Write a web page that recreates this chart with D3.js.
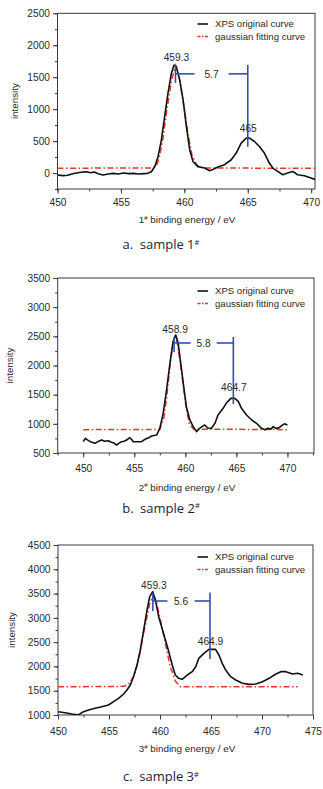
<!DOCTYPE html>
<html>
<head>
<meta charset="utf-8">
<script src="https://cdn.jsdelivr.net/npm/d3@7/dist/d3.min.js"></script>
<style>
  html, body { margin: 0; padding: 0; background: #ffffff; }
  svg { display: block; }
  .tick text { font-family: "Liberation Sans", Arial, sans-serif; }
</style>
</head>
<body>
<svg id="chart" width="323" height="789"></svg>
<script>
// ---------------- DATA ----------------
// Panel a (sample 1#)
const energy1 = [450.0,450.4,450.8,451.2,451.6,452.0,452.3,452.6,452.9,453.2,453.6,454.0,454.4,454.8,455.2,455.6,456.0,456.4,456.8,457.1,457.4,457.67,457.93,458.19,458.45,458.71,458.98,459.19,459.37,459.63,459.9,460.16,460.42,460.68,461.07,461.3,461.6,461.99,462.25,462.64,463.17,463.7,464.09,464.48,464.88,465.14,465.53,465.92,466.31,466.7,466.97,467.36,467.75,468.14,468.54,468.93,469.46,469.98,470.3];
const intensity1 = [-30,-40,-35,-10,5,15,20,5,15,-10,-30,-15,-5,-15,0,-10,-5,-15,-10,-5,20,103,260,520,885,1250,1560,1690,1665,1458,1145,730,365,180,100,90,78,36,55,94,130,208,312,468,547,547,494,416,312,156,78,25,-27,0,25,-27,-42,-78,-100];
const fitEnergy1 = [450,457.5,457.8,458.0,458.3,458.6,459.0,459.3,459.6,460.0,460.3,460.6,461.0,461.5,470.3];
const fitIntensity1 = [75,80,120,220,520,960,1460,1680,1500,1000,600,280,120,78,75];
const yTicks1 = [0,500,1000,1500,2000,2500];
const xTicks1 = [450,455,460,465,470];

// Panel b (sample 2#)
const energy2 = [450.0,450.2,450.45,450.7,451.15,451.5,451.8,452.1,452.45,452.7,452.94,453.27,453.5,453.76,454.0,454.25,454.57,454.75,454.9,455.3,455.71,456.04,456.4,456.69,457.18,457.5,457.83,458.16,458.49,458.8,459.06,459.3,459.55,459.8,460.1,460.44,460.77,461.1,461.4,461.7,461.9,462.2,462.56,462.9,463.2,463.7,464.0,464.45,464.85,465.2,465.5,465.99,466.5,466.97,467.46,467.8,468.1,468.4,468.6,468.9,469.2,469.4,469.7,470.0];
const intensity2 = [694,752,720,694,666,700,723,700,711,690,677,637,670,694,700,723,762,730,694,694,694,735,760,791,808,923,1180,1580,2037,2408,2523,2380,2037,1694,1294,1066,951,866,923,960,980,928,925,1009,1151,1266,1352,1437,1437,1380,1266,1151,1066,1009,923,900,923,910,952,920,935,966,1000,980];
const fitEnergy2 = [450,457.5,457.9,458.2,458.5,458.8,459.0,459.2,459.5,459.8,460.1,460.4,460.8,470];
const fitIntensity2 = [900,905,1100,1500,2000,2400,2500,2400,2050,1650,1250,1000,910,900];
const yTicks2 = [500,1000,1500,2000,2500,3000,3500];
const xTicks2 = [450,455,460,465,470];

// Panel c (sample 3#)
const energy3 = [450.03,450.7,451.35,452.0,452.5,453.0,453.64,454.3,454.95,455.45,455.94,456.43,456.76,457.09,457.4,457.75,458.07,458.4,458.73,458.99,459.29,459.55,459.87,460.2,460.53,460.86,461.2,461.5,461.84,462.17,462.67,463.16,463.5,463.8,464.3,464.8,465.45,465.78,466.1,466.44,466.93,467.42,468.08,468.73,469.39,470.05,470.7,471.36,471.85,472.34,473.0,473.5,474.0];
const intensity3 = [1068,1048,1020,1000,1068,1103,1137,1171,1206,1274,1343,1432,1515,1618,1789,2029,2338,2750,3162,3436,3539,3368,3024,2785,2544,2303,2029,1823,1755,1734,1823,1892,1995,2166,2270,2352,2352,2235,2063,1926,1789,1720,1652,1631,1638,1686,1755,1844,1892,1892,1844,1858,1823];
const fitEnergy3 = [450,456.5,457.0,457.5,458.0,458.5,459.0,459.3,459.6,460.0,460.5,461.0,461.5,462.0,473.5];
const fitIntensity3 = [1580,1590,1650,1820,2250,2800,3300,3450,3350,3000,2500,2000,1700,1580,1580];
const yTicks3 = [1000,1500,2000,2500,3000,3500,4000,4500];
const xTicks3 = [450,455,460,465,470,475];

// Peak annotations: [peak1, peak2, separation]
const peaks1 = [459.3, 465.0];   const peakLabels1 = ["459.3","465"];   const sep1 = "5.7";
const peaks2 = [458.9, 464.7];   const peakLabels2 = ["458.9","464.7"]; const sep2 = "5.8";
const peaks3 = [459.3, 464.9];   const peakLabels3 = ["459.3","464.9"]; const sep3 = "5.6";

const legendLabels = ["XPS original curve", "gaussian fitting curve"];
const xLabelNums = ["1", "2", "3"];
const titleLetters = ["a.", "b.", "c."];

// ---------------- LAYOUT / STYLE ----------------
const svg = d3.select("#chart");
const FONT = '"Liberation Sans", Arial, sans-serif';
const BLUE = "#2f4fb3";
const RED = "#e03a2e";

const panels = [
  { box: {l:57.5, r:315, t:13.3, b:189}, xDom:[450,470.3], yDom:[-250,2500],
    energy:energy1, inten:intensity1, fe:fitEnergy1, fi:fitIntensity1, yTicks:yTicks1, xTicks:xTicks1,
    peaks:peaks1, peakLabels:peakLabels1, sep:sep1, num:xLabelNums[0], letter:titleLetters[0],
    ann:{ top:1692, lBot:1411, bar:1552, rBot:411, lEnd:460.8, rStart:463.48, lab2:645 },
    yLabX:15, tickLabDy:16.5, xLabY:223, titleY:249, legY:24 },
  { box: {l:57.7, r:314, t:278, b:453}, xDom:[447.5,472.6], yDom:[500,3500],
    energy:energy2, inten:intensity2, fe:fitEnergy2, fi:fitIntensity2, yTicks:yTicks2, xTicks:xTicks2,
    peaks:peaks2, peakLabels:peakLabels2, sep:sep2, num:xLabelNums[1], letter:titleLetters[1],
    ann:{ top:2489, lBot:2231, bar:2386, rBot:1340, lEnd:460.52, rStart:463.07, lab2:1563 },
    yLabX:10, tickLabDy:18.5, xLabY:490.5, titleY:512.5, legY:291 },
  { box: {l:58, r:313, t:545, b:715}, xDom:[450,475], yDom:[1000,4500],
    energy:energy3, inten:intensity3, fe:fitEnergy3, fi:fitIntensity3, yTicks:yTicks3, xTicks:xTicks3,
    peaks:peaks3, peakLabels:peakLabels3, sep:sep3, num:xLabelNums[2], letter:titleLetters[2],
    ann:{ top:3522, lBot:3141, bar:3347, rBot:2153, lEnd:460.73, rStart:463.39, lab2:2441 },
    yLabX:11.5, tickLabDy:19.5, xLabY:752, titleY:781, legY:557 }
];

panels.forEach(p => {
  const x = d3.scaleLinear().domain(p.xDom).range([p.box.l, p.box.r]);
  const y = d3.scaleLinear().domain(p.yDom).range([p.box.b, p.box.t]);
  const g = svg.append("g");

  // frame
  g.append("rect").attr("x", p.box.l).attr("y", p.box.t)
    .attr("width", p.box.r - p.box.l).attr("height", p.box.b - p.box.t)
    .attr("fill", "none").attr("stroke", "#3a3a3a").attr("stroke-width", 1);

  // minor ticks
  const yStep = p.yTicks[1] - p.yTicks[0];
  const yMinor = d3.range(p.yDom[0], p.yDom[1] + 1, yStep / 2);
  const xMinor = d3.range(Math.ceil(p.xDom[0] / 2.5) * 2.5, p.xDom[1] + 0.01, 2.5);
  g.append("g").attr("transform", `translate(${p.box.l},0)`)
    .call(d3.axisLeft(y).tickValues(yMinor).tickSize(2.5).tickFormat(""))
    .call(a => a.select(".domain").remove())
    .call(a => a.selectAll("line").attr("stroke", "#3a3a3a"));
  g.append("g").attr("transform", `translate(0,${p.box.b})`)
    .call(d3.axisBottom(x).tickValues(xMinor).tickSize(2.5).tickFormat(""))
    .call(a => a.select(".domain").remove())
    .call(a => a.selectAll("line").attr("stroke", "#3a3a3a"));

  // major axes
  g.append("g").attr("transform", `translate(${p.box.l},0)`)
    .call(d3.axisLeft(y).tickValues(p.yTicks).tickSize(4.5).tickPadding(3).tickFormat(d3.format("d")))
    .call(a => a.select(".domain").remove())
    .call(a => a.selectAll("line").attr("stroke", "#3a3a3a"))
    .call(a => a.selectAll("text").attr("font-size", 10.2).attr("fill", "#2a2a2a").attr("font-family", FONT));
  g.append("g").attr("transform", `translate(0,${p.box.b})`)
    .call(d3.axisBottom(x).tickValues(p.xTicks).tickSize(4.5).tickFormat(d3.format("d")))
    .call(a => a.select(".domain").remove())
    .call(a => a.selectAll("line").attr("stroke", "#3a3a3a"))
    .call(a => a.selectAll("text").attr("font-size", 10.2).attr("fill", "#2a2a2a").attr("font-family", FONT)
      .attr("dy", null).attr("y", p.tickLabDy));

  // curves
  const clipId = "clip" + p.num;
  svg.append("clipPath").attr("id", clipId).append("rect")
    .attr("x", p.box.l).attr("y", p.box.t).attr("width", p.box.r - p.box.l).attr("height", p.box.b - p.box.t);
  const line = d3.line().x(d => x(d[0])).y(d => y(d[1]));
  g.append("path").datum(p.fe.map((e, i) => [e, p.fi[i]]))
    .attr("clip-path", `url(#${clipId})`)
    .attr("d", line).attr("fill", "none").attr("stroke", RED).attr("stroke-width", 1.5)
    .attr("stroke-dasharray", "6,2.5,1.5,2.5");
  g.append("path").datum(p.energy.map((e, i) => [e, p.inten[i]]))
    .attr("clip-path", `url(#${clipId})`)
    .attr("d", line).attr("fill", "none").attr("stroke", "#111").attr("stroke-width", 1.6)
    .attr("stroke-linejoin", "round");

  // annotation bracket
  const a = p.ann;
  const segs = [
    [[p.peaks[0], a.top], [p.peaks[0], a.lBot]],
    [[p.peaks[0], a.bar], [a.lEnd, a.bar]],
    [[a.rStart, a.bar], [p.peaks[1], a.bar]],
    [[p.peaks[1], a.top], [p.peaks[1], a.rBot]]
  ];
  g.selectAll(null).data(segs).join("line")
    .attr("x1", d => x(d[0][0])).attr("y1", d => y(d[0][1]))
    .attr("x2", d => x(d[1][0])).attr("y2", d => y(d[1][1]))
    .attr("stroke", BLUE).attr("stroke-width", 1.6);
  g.append("text").attr("x", (x(a.lEnd) + x(a.rStart)) / 2).attr("y", y(a.bar) + 3.8)
    .attr("text-anchor", "middle").attr("font-family", FONT).attr("font-size", 10.2).attr("fill", "#2a2a2a")
    .text(p.sep);
  g.append("text").attr("x", x(p.peaks[0]) + 1).attr("y", y(a.top) - 3.5)
    .attr("text-anchor", "middle").attr("font-family", FONT).attr("font-size", 10.2).attr("fill", "#2a2a2a")
    .text(p.peakLabels[0]);
  g.append("text").attr("x", x(p.peaks[1]) + 0.5).attr("y", y(a.lab2))
    .attr("text-anchor", "middle").attr("font-family", FONT).attr("font-size", 10.2).attr("fill", "#2a2a2a")
    .text(p.peakLabels[1]);

  // legend
  const lx0 = 197.5, lx1 = 208, tx = 215;
  g.append("line").attr("x1", lx0).attr("x2", lx1).attr("y1", p.legY).attr("y2", p.legY)
    .attr("stroke", "#111").attr("stroke-width", 1.6);
  g.append("line").attr("x1", lx0).attr("x2", lx1).attr("y1", p.legY + 12.5).attr("y2", p.legY + 12.5)
    .attr("stroke", RED).attr("stroke-width", 1.5).attr("stroke-dasharray", "3,1.5,1.5,1.5");
  g.append("text").attr("x", tx).attr("y", p.legY + 3.4).attr("font-family", FONT).attr("font-size", 9.6)
    .attr("fill", "#2a2a2a").text(legendLabels[0]);
  g.append("text").attr("x", tx).attr("y", p.legY + 15.9).attr("font-family", FONT).attr("font-size", 9.6)
    .attr("fill", "#2a2a2a").text(legendLabels[1]);

  // y label
  g.append("text").attr("transform", `translate(${p.yLabX + 3},${(p.box.t + p.box.b) / 2}) rotate(-90)`)
    .attr("text-anchor", "middle").attr("font-family", FONT).attr("font-size", 9.8).attr("fill", "#2a2a2a")
    .text("intensity");

  // x label
  const xl = g.append("text").attr("x", 187).attr("y", p.xLabY).attr("text-anchor", "middle")
    .attr("font-family", FONT).attr("font-size", 9.9).attr("fill", "#2a2a2a");
  xl.append("tspan").text(p.num);
  xl.append("tspan").attr("font-size", 6).attr("dy", -3.5).text("#");
  xl.append("tspan").attr("dy", 3.5).text(" binding energy / eV");

  // title
  const tt = svg.append("text").attr("x", 161).attr("y", p.titleY).attr("text-anchor", "middle")
    .attr("font-family", '"Open Sans", "Noto Sans", sans-serif').attr("font-size", 13).attr("fill", "#1b1e3c");
  tt.append("tspan").text(p.letter + "\u2002sample " + p.num);
  tt.append("tspan").attr("font-size", 7.5).attr("dy", -4.5).text("#");
});
</script>
</body>
</html>
